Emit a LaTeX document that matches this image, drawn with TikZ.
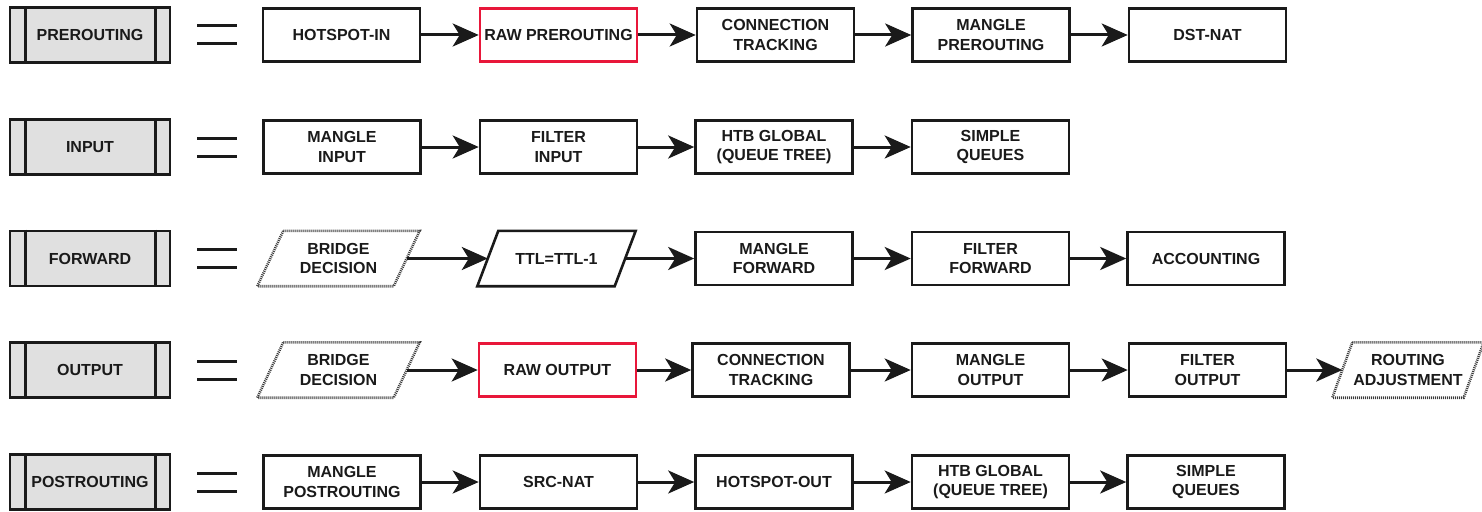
\documentclass[tikz,border=0pt]{standalone}
\usepackage{fontspec}
\setmainfont{Liberation Sans}
\usetikzlibrary{arrows.meta,calc}
\definecolor{ink}{HTML}{1A1A1A}
\definecolor{lblfill}{HTML}{E0E0E0}
\definecolor{rawred}{HTML}{E8173A}
\definecolor{dotgray}{HTML}{3A3A3A}
\newcommand\drawpara[3]{\draw[#3] ([xshift=#2]#1.north west) -- ([xshift=#2]#1.north east) -- ([xshift=-#2]#1.south east) -- ([xshift=-#2]#1.south west) -- cycle;}
\newcommand\drawchain[1]{\draw[draw=ink, line width=2.6pt] ([xshift=17pt]#1.north west) -- ([xshift=17pt]#1.south west) ([xshift=-16pt]#1.north east) -- ([xshift=-16pt]#1.south east);}
\newcommand\drawequals[1]{\draw[draw=ink, line width=3pt] (197,#1-9) -- (237,#1-9) (197,#1+9) -- (237,#1+9);}
\tikzset{
  lbltext/.style={text=ink, align=center, inner sep=0pt, font=\bfseries\fontsize{16}{19.5}\selectfont},
  box/.style={lbltext, draw=ink, line width=2.6pt, minimum width=157pt, minimum height=53pt},
  redbox/.style={box, draw=rawred},
  chainbox/.style={box, fill=lblfill, minimum width=160pt, minimum height=55pt},
  paranode/.style={lbltext, minimum height=55pt},
  dotline/.style={draw=dotgray, line width=2.6pt, dash pattern=on 1pt off 1pt},
  solidline/.style={draw=ink, line width=2.6pt},
  conn/.style={draw=ink, line width=3pt, -{Stealth[length=26pt,width=23pt,inset=7pt]}}
}
\begin{document}
\begin{tikzpicture}[x=1pt,y=-1pt]
\useasboundingbox (0,0) rectangle (1482,511);
% row 1
\node[chainbox] (c1) at (90,35) {PREROUTING};
\drawchain{c1}
\drawequals{35}
\node[box] (a1) at (341.5,35) {HOTSPOT-IN};
\node[redbox] (a2) at (558.5,35) {RAW PREROUTING};
\node[box] (a3) at (775.5,35) {CONNECTION\\TRACKING};
\node[box] (a4) at (991,35) {MANGLE\\PREROUTING};
\node[box] (a5) at (1207.5,35) {DST-NAT};
\draw[conn] (a1) -- (a2);
\draw[conn] (a2) -- (a3);
\draw[conn] (a3) -- (a4);
\draw[conn] (a4) -- (a5);
% row 2
\node[chainbox] (c2) at (90,147) {INPUT};
\drawchain{c2}
\drawequals{147}
\node[box] (b1) at (342,147) {MANGLE\\INPUT};
\node[box] (b2) at (558.5,147) {FILTER\\INPUT};
\node[box] (b3) at (774,147) {HTB GLOBAL\\(QUEUE TREE)};
\node[box] (b4) at (990.5,147) {SIMPLE\\QUEUES};
\draw[conn] (b1) -- (b2);
\draw[conn] (b2) -- (b3);
\draw[conn] (b3) -- (b4);
% row 3
\node[chainbox] (c3) at (90,258.5) {FORWARD};
\drawchain{c3}
\drawequals{258.5}
\node[paranode, minimum width=136pt] (d1) at (338.5,258.5) {BRIDGE\\DECISION};
\drawpara{d1}{13pt}{dotline}
\node[paranode, minimum width=137pt] (d2) at (556.5,258.5) {TTL=TTL-1};
\drawpara{d2}{10.5pt}{solidline}
\node[box] (d3) at (774,258.5) {MANGLE\\FORWARD};
\node[box] (d4) at (990.5,258.5) {FILTER\\FORWARD};
\node[box] (d5) at (1206,258.5) {ACCOUNTING};
\draw[conn] (d1) -- (d2);
\draw[conn] (d2) -- (d3);
\draw[conn] (d3) -- (d4);
\draw[conn] (d4) -- (d5);
% row 4
\node[chainbox] (c4) at (90,370) {OUTPUT};
\drawchain{c4}
\drawequals{370}
\node[paranode, minimum width=136pt] (e1) at (338.5,370) {BRIDGE\\DECISION};
\drawpara{e1}{13pt}{dotline}
\node[redbox] (e2) at (557.5,370) {RAW OUTPUT};
\node[box] (e3) at (771,370) {CONNECTION\\TRACKING};
\node[box] (e4) at (990.5,370) {MANGLE\\OUTPUT};
\node[box] (e5) at (1207.5,370) {FILTER\\OUTPUT};
\node[paranode, minimum width=131pt] (e6) at (1408,370) {ROUTING\\ADJUSTMENT};
\drawpara{e6}{10pt}{dotline}
\draw[conn] (e1) -- (e2);
\draw[conn] (e2) -- (e3);
\draw[conn] (e3) -- (e4);
\draw[conn] (e4) -- (e5);
\draw[conn] (e5) -- (e6);
% row 5
\node[chainbox] (c5) at (90,482) {POSTROUTING};
\drawchain{c5}
\drawequals{482}
\node[box] (f1) at (342,482) {MANGLE\\POSTROUTING};
\node[box] (f2) at (558.5,482) {SRC-NAT};
\node[box] (f3) at (774,482) {HOTSPOT-OUT};
\node[box] (f4) at (990.5,482) {HTB GLOBAL\\(QUEUE TREE)};
\node[box] (f5) at (1206,482) {SIMPLE\\QUEUES};
\draw[conn] (f1) -- (f2);
\draw[conn] (f2) -- (f3);
\draw[conn] (f3) -- (f4);
\draw[conn] (f4) -- (f5);
\end{tikzpicture}
\end{document}
